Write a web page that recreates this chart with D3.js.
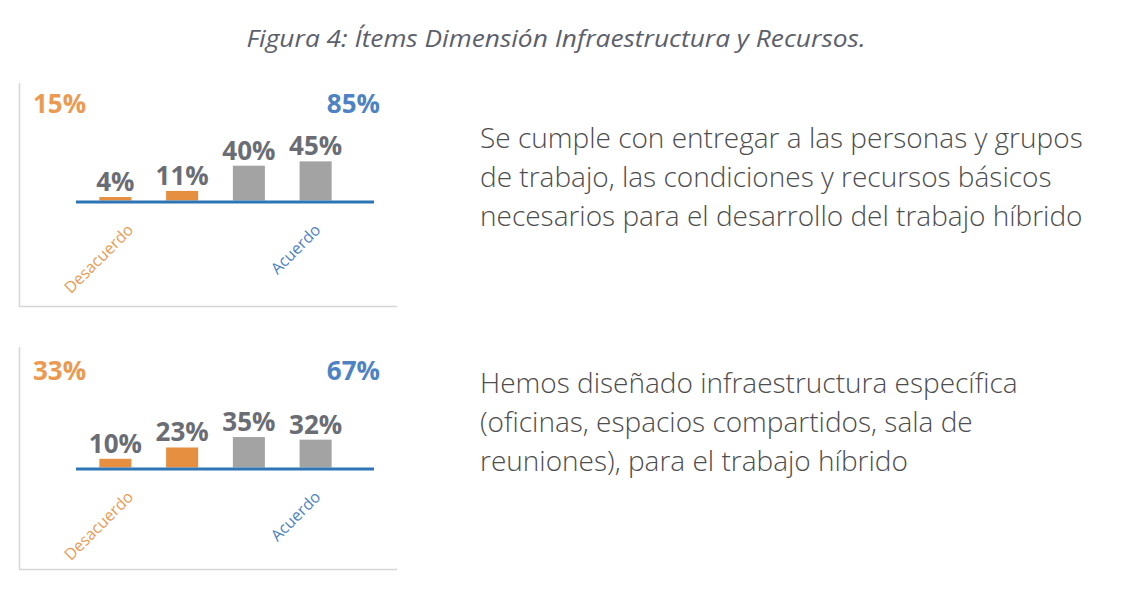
<!DOCTYPE html>
<html>
<head>
<meta charset="utf-8">
<script src="https://cdn.jsdelivr.net/npm/d3@7"></script>
<style>
  html, body { margin: 0; padding: 0; background: #ffffff; }
  svg { display: block; }
</style>
</head>
<body>
<svg id="chart" width="1136" height="606"></svg>
<script>
// ---- Data ----
const title = "Figura 4: Ítems Dimensión Infraestructura y Recursos.";
const categories = ["Muy en desacuerdo", "En desacuerdo", "De acuerdo", "Muy de acuerdo"];
const categoryGroup = ["des", "des", "ac", "ac"];
const item1Values = [4, 11, 40, 45];
const item2Values = [10, 23, 35, 32];
const desacuerdoTotals = [15, 33];
const acuerdoTotals = [85, 67];
const item1Text = [
  "Se cumple con entregar a las personas y grupos",
  "de trabajo, las condiciones y recursos básicos",
  "necesarios para el desarrollo del trabajo híbrido"
];
const item2Text = [
  "Hemos diseñado infraestructura específica",
  "(oficinas, espacios compartidos, sala de",
  "reuniones), para el trabajo híbrido"
];
const groupLabels = ["Desacuerdo", "Acuerdo"];

// ---- Styles ----
const C = {
  orangeBar: "#E68F40",
  grayBar: "#A3A3A3",
  orangeText: "#EB9A52",
  blueText: "#4E83C3",
  axis: "#2E75B6",
  label: "#6A6D74",
  frame: "#D6D6D6",
  body: "#4d4d4d",
  title: "#5C606B"
};

const svg = d3.select("#chart");

svg.append("text")
  .attr("x", 556).attr("y", 47)
  .attr("text-anchor", "middle")
  .attr("font-family", "'Open Sans', 'Noto Sans', sans-serif")
  .attr("font-style", "italic")
  .attr("font-size", 24)
  .attr("fill", C.title)
  .attr("textLength", 619)
  .attr("lengthAdjust", "spacingAndGlyphs")
  .text(title);

const panels = [
  { values: item1Values, des: desacuerdoTotals[0], ac: acuerdoTotals[0], text: item1Text, top: 83, bottom: 306, axisY: 202, textY: 148 },
  { values: item2Values, des: desacuerdoTotals[1], ac: acuerdoTotals[1], text: item2Text, top: 347, bottom: 569, axisY: 469, textY: 393 }
];

const x = d3.scaleBand()
  .domain(categories)
  .range([82, 349])
  .paddingInner(0.52)
  .paddingOuter(0.26);

panels.forEach(p => {
  const g = svg.append("g");
  const axisTop = p.axisY - 1.5;
  const y = d3.scaleLinear().domain([0, 50]).range([axisTop, axisTop - 43.5]);

  // frame (left & bottom)
  g.append("path")
    .attr("d", `M19.5,${p.top} V${p.bottom + 0.5} H397`)
    .attr("fill", "none")
    .attr("stroke", C.frame)
    .attr("stroke-width", 1.5);

  // bars
  g.selectAll("rect.bar")
    .data(p.values)
    .join("rect")
    .attr("class", "bar")
    .attr("x", (d, i) => x(categories[i]))
    .attr("width", x.bandwidth())
    .attr("y", d => y(d))
    .attr("height", d => y(0) - y(d))
    .attr("fill", (d, i) => categoryGroup[i] === "des" ? C.orangeBar : C.grayBar);

  // axis line
  g.append("line")
    .attr("x1", 76).attr("x2", 374)
    .attr("y1", p.axisY).attr("y2", p.axisY)
    .attr("stroke", C.axis)
    .attr("stroke-width", 3);

  // value labels
  g.selectAll("text.val")
    .data(p.values)
    .join("text")
    .attr("class", "val")
    .attr("x", (d, i) => x(categories[i]) + x.bandwidth() / 2)
    .attr("y", d => y(d) - 6)
    .attr("text-anchor", "middle")
    .attr("font-family", "'Open Sans', 'Noto Sans', sans-serif")
    .attr("font-weight", "bold")
    .attr("font-size", 26)
    .attr("fill", C.label)
    .text(d => d + "%");

  // totals
  g.append("text")
    .attr("x", 33).attr("y", p.axisY - 89)
    .attr("font-family", "'Open Sans', 'Noto Sans', sans-serif")
    .attr("font-weight", "bold")
    .attr("font-size", 26)
    .attr("fill", C.orangeText)
    .text(p.des + "%");
  g.append("text")
    .attr("x", 380).attr("y", p.axisY - 89)
    .attr("text-anchor", "end")
    .attr("font-family", "'Open Sans', 'Noto Sans', sans-serif")
    .attr("font-weight", "bold")
    .attr("font-size", 26)
    .attr("fill", C.blueText)
    .text(p.ac + "%");

  // rotated group labels
  const lx1 = x(categories[0]) + x.bandwidth() + 3;
  const lx2 = x(categories[3]) + x.bandwidth() / 2 + 6;
  [[groupLabels[0], lx1, C.orangeText], [groupLabels[1], lx2, C.blueText]].forEach(([t, lx, col]) => {
    g.append("text")
      .attr("transform", `translate(${lx},${p.axisY + 29}) rotate(-45)`)
      .attr("text-anchor", "end")
      .attr("font-family", "'Open Sans', 'Noto Sans', sans-serif")
      .attr("font-size", 16)
      .attr("fill", col)
      .text(t);
  });

  // item text
  g.selectAll("text.item")
    .data(p.text)
    .join("text")
    .attr("class", "item")
    .attr("x", 480)
    .attr("y", (d, i) => p.textY + i * 39)
    .attr("font-family", "'Open Sans', 'Noto Sans', sans-serif")
    .attr("font-weight", 300)
    .attr("font-size", 28)
    .attr("fill", C.body)
    .text(d => d);
});
</script>
</body>
</html>
